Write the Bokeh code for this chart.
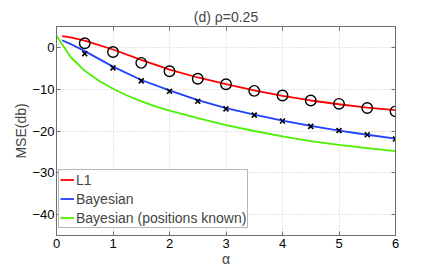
from bokeh.plotting import figure
from bokeh.models import Range1d, LinearAxis, Legend, LegendItem, FixedTicker
from bokeh.embed import file_html
from bokeh.resources import INLINE

# Data
alpha_line = [0.1, 0.25, 0.5, 1.0, 1.5, 2.0, 2.5, 3.0, 3.5, 4.0, 4.5, 5.0, 5.5, 6.0]
l1_line = [2.7, 2.4, 1.6, -0.5, -3.0, -5.3, -7.2, -8.8, -10.3, -11.6, -12.7, -13.6, -14.4, -15.0]
bayes_line = [1.7, 0.8, -0.9, -4.6, -7.8, -10.3, -12.6, -14.5, -16.1, -17.5, -18.8, -19.9, -20.9, -21.8]

alpha_mark = [0.5, 1.0, 1.5, 2.0, 2.5, 3.0, 3.5, 4.0, 4.5, 5.0, 5.5, 6.0]
l1_mark = [1.0, -1.1, -3.7, -5.7, -7.5, -8.8, -10.4, -11.5, -12.7, -13.5, -14.5, -15.3]
bayes_mark = [-1.5, -4.9, -8.0, -10.5, -12.9, -14.7, -16.2, -17.6, -18.9, -19.9, -20.9, -21.9]

alpha_known = [0.0, 0.25, 0.5, 0.75, 1.0, 1.25, 1.5, 1.75, 2.0, 2.5, 3.0, 3.5, 4.0, 4.5, 5.0, 5.5, 6.0]
known_line = [2.8, -2.3, -5.6, -8.0, -9.9, -11.5, -12.9, -14.1, -15.1, -16.9, -18.6, -20.0, -21.3, -22.4, -23.3, -24.1, -24.8]

x_ticks = [0, 1, 2, 3, 4, 5, 6]
y_ticks = [-40, -30, -20, -10, 0]

FONT = "Liberation Sans"
FS = "13px"
BOX = "#6e6e6e"

p = figure(width=436, height=269, output_backend="svg", toolbar_location=None,
           x_range=Range1d(0, 6), y_range=Range1d(-45, 5),
           min_border_left=56, min_border_right=41, min_border_top=26, min_border_bottom=31)

p.title.text = "(d) \u03c1=0.25"
p.title.align = "center"
p.title.vertical_align = "top"
p.title.text_font = FONT
p.title.text_font_size = "14px"
p.title.text_font_style = "normal"
p.title.offset = 0
p.title.standoff = 0

p.outline_line_color = BOX
p.outline_line_width = 1
p.background_fill_color = "white"
p.border_fill_color = "white"

for ax in (p.xaxis[0], p.yaxis[0]):
    ax.axis_line_color = BOX
    ax.major_tick_line_color = BOX
    ax.minor_tick_line_color = None
    ax.major_tick_in = 4
    ax.major_tick_out = 0
    ax.major_label_text_font = FONT
    ax.major_label_text_font_size = FS
    ax.major_label_text_color = "black"
    ax.axis_label_text_font = FONT
    ax.axis_label_text_font_size = "14px"
    ax.axis_label_text_font_style = "normal"

p.xaxis[0].ticker = FixedTicker(ticks=x_ticks)
p.yaxis[0].ticker = FixedTicker(ticks=y_ticks)
p.xaxis[0].axis_label = "\u03b1"
p.xaxis[0].axis_label_standoff = 0
p.xaxis[0].major_label_standoff = 3
p.yaxis[0].axis_label = "MSE(db)"
p.yaxis[0].axis_label_standoff = 0
p.yaxis[0].major_label_standoff = 2
p.yaxis[0].major_label_overrides = {t: str(t).replace("-", "\u2212") for t in y_ticks}

right = LinearAxis(ticker=FixedTicker(ticks=y_ticks),
                   major_label_overrides={t: "" for t in y_ticks},
                   axis_line_color=BOX, major_tick_line_color=BOX, minor_tick_line_color=None,
                   major_tick_in=4, major_tick_out=0, major_label_standoff=0)
top = LinearAxis(ticker=FixedTicker(ticks=x_ticks),
                 major_label_overrides={t: "" for t in x_ticks},
                 axis_line_color=BOX, major_tick_line_color=BOX, minor_tick_line_color=None,
                 major_tick_in=4, major_tick_out=0, major_label_standoff=6)
p.add_layout(right, "right")
p.add_layout(top, "above")

p.xgrid.ticker = FixedTicker(ticks=x_ticks)
p.ygrid.ticker = FixedTicker(ticks=y_ticks)
for g in (p.xgrid[0], p.ygrid[0]):
    g.grid_line_color = "#c8c8c8"
    g.grid_line_dash = "1 2"
    g.grid_line_width = 1

r_l1 = p.line(alpha_line, l1_line, line_color="#ff0000", line_width=1.8)
r_bayes = p.line(alpha_line, bayes_line, line_color="#2040ff", line_width=1.8)
r_known = p.line(alpha_known, known_line, line_color="#4cf000", line_width=1.8)

p.scatter(alpha_mark, l1_mark, marker="circle", size=10.5, fill_color=None,
          line_color="black", line_width=1.4)
p.scatter(alpha_mark, bayes_mark, marker="x", size=7, line_color="black", line_width=1.6)

legend = Legend(items=[
    LegendItem(label="L1", renderers=[r_l1]),
    LegendItem(label="Bayesian", renderers=[r_bayes]),
    LegendItem(label="Bayesian (positions known)", renderers=[r_known]),
], location=(2, 7))
legend.label_text_font = FONT
legend.label_text_font_size = "14px"
legend.label_standoff = 2
legend.glyph_width = 14
legend.glyph_height = 17
legend.label_height = 17
legend.spacing = 2
legend.padding = 1
legend.margin = 0
legend.border_line_color = BOX
legend.border_line_width = 1
legend.background_fill_alpha = 1
p.add_layout(legend)

open("out.html", "w").write(file_html(p, INLINE))
